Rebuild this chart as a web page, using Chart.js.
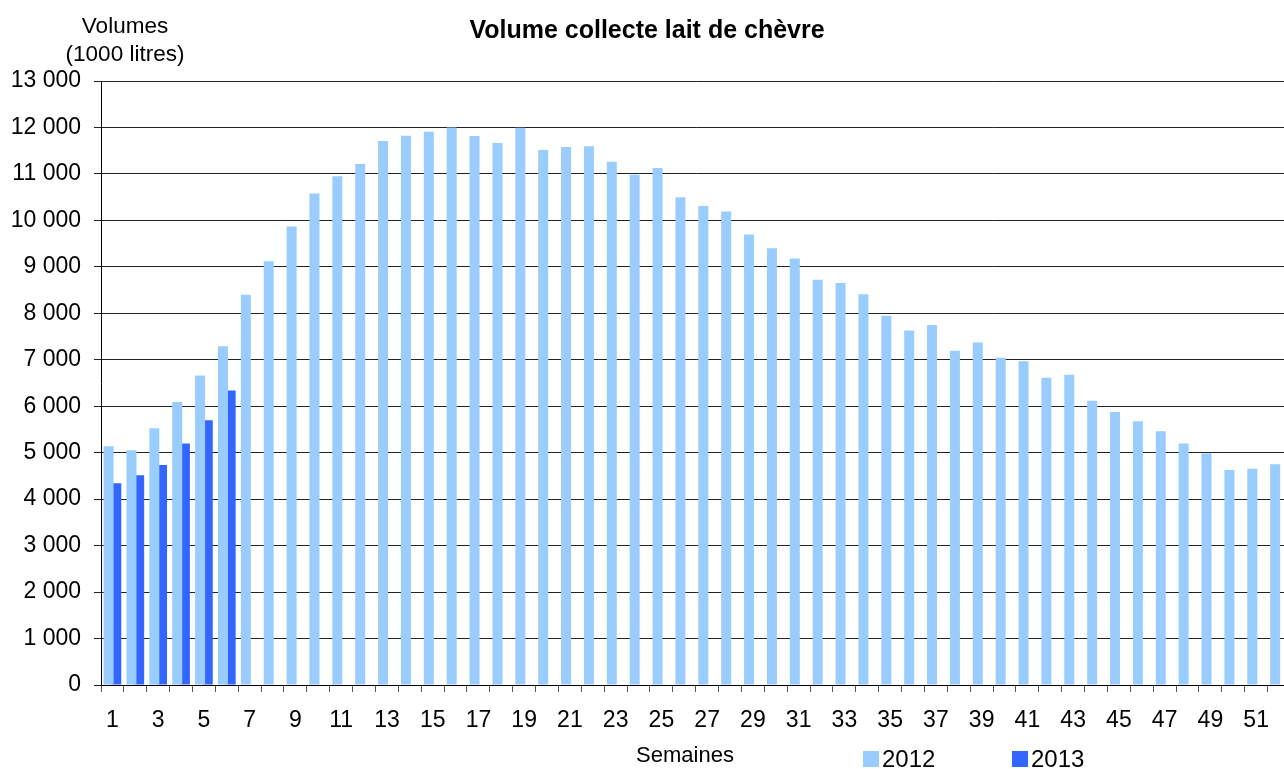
<!DOCTYPE html>
<html>
<head>
<meta charset="utf-8">
<script src="https://cdn.jsdelivr.net/npm/chart.js@4/dist/chart.umd.min.js"></script>
<style>
  html, body { margin: 0; padding: 0; overflow: hidden; background: #fff; }
</style>
</head>
<body>
<canvas id="myChart" width="1294" height="769"></canvas>
<script>
// semaines (categories)
var semaines = [1,2,3,4,5,6,7,8,9,10,11,12,13,14,15,16,17,18,19,20,21,22,23,24,25,26,
                27,28,29,30,31,32,33,34,35,36,37,38,39,40,41,42,43,44,45,46,47,48,49,50,51,52];

// volumes en 1000 litres
var volumes2012 = [5140,5050,5525,6090,6660,7290,8400,9120,9870,10580,10950,11215,11710,11820,
                   11910,12000,11815,11665,11995,11515,11580,11595,11260,10980,11130,10500,10310,
                   10190,9695,9400,9180,8720,8650,8410,7945,7630,7750,7195,7370,7045,6970,6615,
                   6680,6120,5875,5675,5460,5200,4980,4630,4655,4750];
var volumes2013 = [4340,4515,4735,5200,5700,6340];

var series = ['2012', '2013'];
var yTicks = [0,1000,2000,3000,4000,5000,6000,7000,8000,9000,10000,11000,12000,13000];

var police = 'Liberation Sans, Arial, sans-serif';

function milliers(v) {
	return String(v).replace(/\B(?=(\d{3})+(?!\d))/g, ' ');
}

// textes autour du graphique (titre, unité, axe, légende)
var textes = {
	id: 'textes',
	afterDraw: function(chart) {
		var ctx = chart.ctx;
		ctx.save();
		ctx.fillStyle = '#000';
		ctx.textAlign = 'center';
		ctx.textBaseline = 'alphabetic';

		ctx.font = 'bold 25px ' + police;
		ctx.fillText('Volume collecte lait de chèvre', 647, 38);

		ctx.font = '22.5px ' + police;
		ctx.fillText('Volumes', 125, 33);
		ctx.fillText('(1000 litres)', 125, 61);

		ctx.font = '22px ' + police;
		ctx.fillText('Semaines', 685, 762);

		// légende
		var ds = chart.data.datasets;
		var pos = [863, 1012];
		ctx.textAlign = 'left';
		ctx.font = '24px ' + police;
		for (var i = 0; i < ds.length; i++) {
			ctx.fillStyle = ds[i].backgroundColor;
			ctx.fillRect(pos[i], 751, 16, 16);
			ctx.fillStyle = '#000';
			ctx.fillText(ds[i].label, pos[i] + 19, 767);
		}
		ctx.restore();
	}
};

var myChart = document.getElementById('myChart').getContext('2d');

var graphe = new Chart(myChart, {
	type: 'bar',
	data: {
		labels: semaines,
		datasets: [
		{
			label: series[0],
			data: volumes2012,
			backgroundColor: '#99CCFF',
			borderWidth: 0,
			categoryPercentage: 0.672,
			barPercentage: 1.3
		},
		{
			label: series[1],
			data: volumes2013,
			backgroundColor: '#3366FF',
			borderWidth: 0,
			categoryPercentage: 0.672,
			barPercentage: 1.3
		}
		]
	},
	options: {
		responsive: false,
		animation: false,
		layout: { padding: { left: 0, top: 81, right: 0, bottom: 0 } },
		plugins: {
			legend: { display: false },
			title: { display: false },
			tooltip: { enabled: false }
		},
		scales: {
			x: {
				offset: true,
				afterFit: function(scale) { scale.height = 84; },
				grid: {
					offset: true,
					drawOnChartArea: false,
					drawTicks: true,
					tickLength: 7,
					color: '#555'
				},
				border: { color: '#000', width: 1 },
				ticks: {
					autoSkip: false,
					maxRotation: 0,
					padding: 15,
					color: '#000',
					font: { family: police, size: 23 },
					callback: function(val, i) { return i % 2 === 0 ? this.getLabelForValue(val) : ''; }
				}
			},
			y: {
				min: 0,
				max: 13000,
				afterFit: function(scale) { scale.width = 101; },
				afterBuildTicks: function(scale) {
					scale.ticks = yTicks.map(function(v) { return { value: v }; });
				},
				grid: {
					color: '#222',
					tickLength: 7
				},
				border: { color: '#000', width: 1 },
				ticks: {
					padding: 13,
					color: '#000',
					font: { family: police, size: 23 },
					callback: function(v) { return milliers(v); }
				}
			}
		}
	},
	plugins: [textes]
});
</script>
</body>
</html>
